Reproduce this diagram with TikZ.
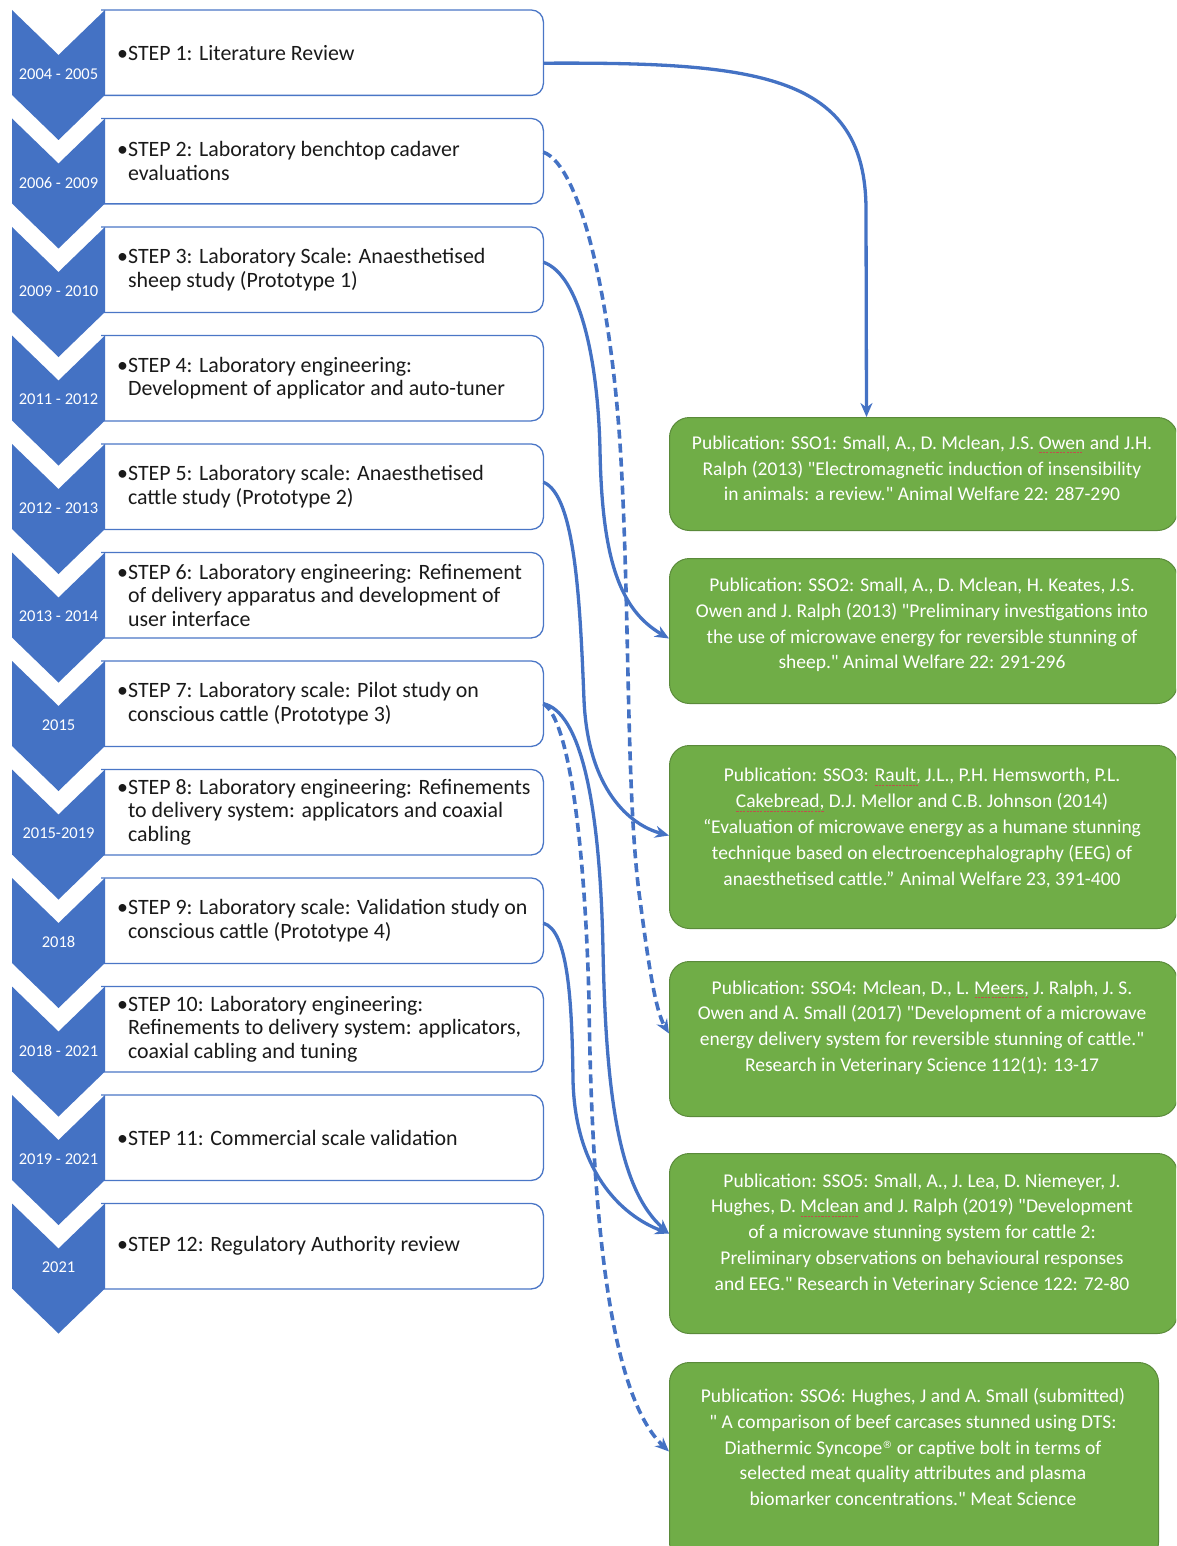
\documentclass[tikz,border=0pt]{standalone}
\usepackage{fontspec}
\setmainfont{Carlito}[Ligatures=TeXOff]
\newfontfamily\symfam{DejaVu Sans}
\usetikzlibrary{arrows.meta}
\definecolor{chevblue}{HTML}{4472C4}
\definecolor{edgeblue}{HTML}{4A76C6}
\definecolor{linkblue}{HTML}{4472C4}
\definecolor{pubgreen}{HTML}{70AD47}
\definecolor{pubedge}{HTML}{5A8A3A}
\definecolor{spellred}{HTML}{C0504D}
\definecolor{steptxt}{HTML}{1A1A1A}
\newsavebox\spellbox
\newcommand\spellmark[1]{\sbox\spellbox{#1}\rlap{\raisebox{-4pt}[0pt][0pt]{\makebox[\wd\spellbox][l]{\color{spellred}\leaders\hbox{\kern0.6pt\rule{2.2pt}{1.1pt}\kern0.6pt}\hfill}}}\usebox\spellbox}
\newcommand\ind{\phantom{•}}
\newcommand\mkstep[2]{%
  \node[stepbox] (s#1) at (105,{10+(#1-1)*108.5}) {};
  \draw[stepedge] ([xshift=-4pt]s#1.north west) -- (s#1.north east) -- (s#1.south east) -- ([xshift=-4pt]s#1.south west);
  \node[steptext] (t#1) at ([xshift=12pt]s#1.west) {#2};
}
\begin{document}
\begin{tikzpicture}[x=1pt,y=-1pt,
  chev/.style={fill=chevblue},
  stepbox/.style={minimum width=438pt, minimum height=85pt, anchor=north west, inner sep=0pt, fill=white},
  stepedge/.style={draw=edgeblue, line width=1.3pt, rounded corners=12pt},
  steptext/.style={font=\fontsize{21.9pt}{23.7pt}\selectfont, text=steptxt, align=left, anchor=west, inner sep=0pt},
  yearlab/.style={font=\fontsize{16.5pt}{18pt}\selectfont, text=white, inner sep=0pt},
  pubbox/.style={fill=pubgreen, draw=pubedge, line width=1pt, rounded corners=20pt, anchor=north west, inner sep=0pt},
  pubtext/.style={font=\fontsize{19.5pt}{25.8pt}\selectfont, text=white, align=center, inner sep=0pt},
  link/.style={draw=linkblue, line width=3.3pt, -{Stealth[length=14pt,width=12pt]}},
  dashlink/.style={link, line width=3.6pt, dash pattern=on 9pt off 5pt}
]
\useasboundingbox (0,0) rectangle (1176,1546);
\clip (0,0) rectangle (1176,1546);

% step boxes
\mkstep{1}{•STEP 1: Literature Review}
\mkstep{2}{•STEP 2: Laboratory benchtop cadaver\\\ind evaluations}
\mkstep{3}{•STEP 3: Laboratory Scale: Anaesthetised\\\ind sheep study (Prototype 1)}
\mkstep{4}{•STEP 4: Laboratory engineering:\\\ind Development of applicator and auto-tuner}
\mkstep{5}{•STEP 5: Laboratory scale: Anaesthetised\\\ind cattle study (Prototype 2)}
\mkstep{6}{•STEP 6: Laboratory engineering: Refinement\\\ind of delivery apparatus and development of\\\ind user interface}
\mkstep{7}{•STEP 7: Laboratory scale: Pilot study on\\\ind conscious cattle (Prototype 3)}
\mkstep{8}{•STEP 8: Laboratory engineering: Refinements\\\ind to delivery system: applicators and coaxial\\\ind cabling}
\mkstep{9}{•STEP 9: Laboratory scale: Validation study on\\\ind conscious cattle (Prototype 4)}
\mkstep{10}{•STEP 10: Laboratory engineering:\\\ind Refinements to delivery system: applicators,\\\ind coaxial cabling and tuning}
\mkstep{11}{•STEP 11: Commercial scale validation}
\mkstep{12}{•STEP 12: Regulatory Authority review}

% chevrons with years
\foreach \i/\yr in {1/2004 - 2005,2/2006 - 2009,3/2009 - 2010,4/2011 - 2012,5/2012 - 2013,6/2013 - 2014,7/2015,8/2015-2019,9/2018,10/2018 - 2021,11/2019 - 2021,12/2021}{
  \pgfmathsetmacro\ctop{10+(\i-1)*108.5}
  \fill[chev] (12,\ctop) -- (58.5,\ctop+45) -- (105,\ctop) -- (105,\ctop+85) -- (58.5,\ctop+130) -- (12,\ctop+85) -- cycle;
  \node[yearlab] (y\i) at (58.5,\ctop+64) {\yr};
}

% publication boxes
\node[pubbox, minimum width=508pt, minimum height=113pt] (g1) at (669,417) {};
\node[pubbox, minimum width=508pt, minimum height=145pt] (g2) at (669,558) {};
\node[pubbox, minimum width=508pt, minimum height=183pt] (g3) at (669,745) {};
\node[pubbox, minimum width=508pt, minimum height=155pt] (g4) at (669,961) {};
\node[pubbox, minimum width=508pt, minimum height=180pt] (g5) at (669,1153) {};
\node[pubbox, minimum width=489pt, minimum height=200pt] (g6) at (669,1362) {};

\node[pubtext] (g1t) at (922,468.5) {Publication: SSO1: Small, A., D. Mclean, J.S. \spellmark{Owen} and J.H.\\Ralph (2013) "Electromagnetic induction of insensibility\\in animals: a review." Animal Welfare 22: 287-290};
\node[pubtext] (g2t) at (922,625) {Publication: SSO2: Small, A., D. Mclean, H. Keates, J.S.\\Owen and J. Ralph (2013) "Preliminary investigations into\\the use of microwave energy for reversible stunning of\\sheep." Animal Welfare 22: 291-296};
\node[pubtext] (g3t) at (922,828) {Publication: SSO3: \spellmark{Rault,} J.L., P.H. Hemsworth, P.L.\\\spellmark{Cakebread,} D.J. Mellor and C.B. Johnson (2014)\\“Evaluation of microwave energy as a humane stunning\\technique based on electroencephalography (EEG) of\\anaesthetised cattle.” Animal Welfare 23, 391-400};
\node[pubtext] (g4t) at (922,1027.5) {Publication: SSO4: Mclean, D., L. \spellmark{Meers,} J. Ralph, J. S.\\Owen and A. Small (2017) "Development of a microwave\\energy delivery system for reversible stunning of cattle."\\Research in Veterinary Science 112(1): 13-17};
\node[pubtext] (g5t) at (922,1233.5) {Publication: SSO5: Small, A., J. Lea, D. Niemeyer, J.\\Hughes, D. \spellmark{Mclean} and J. Ralph (2019) "Development\\of a microwave stunning system for cattle 2:\\Preliminary observations on behavioural responses\\and EEG." Research in Veterinary Science 122: 72-80};
\node[pubtext] (g6t) at (913,1447) {Publication: SSO6: Hughes, J and A. Small (submitted)\\" A comparison of beef carcases stunned using DTS:\\Diathermic Syncope\raisebox{6pt}{\symfam\fontsize{10pt}{10pt}\selectfont ®} or captive bolt in terms of\\selected meat quality attributes and plasma\\biomarker concentrations." Meat Science};

% connectors
\draw[link] ([yshift=-10.5pt]s1.east) .. controls (760,62) and (866,75) .. (866,210) -- ([xshift=-57pt]g1.north);
\draw[dashlink] ([yshift=9pt]s2.east) .. controls (580,165) and (612,300) .. (621,460) .. controls (630,620) and (626,800) .. (640,900) .. controls (648,960) and (655,1010) .. ([yshift=5.5pt]g4.west);
\draw[link] ([yshift=7.5pt]s3.east) .. controls (580,275) and (598,360) .. (600,450) .. controls (602,560) and (620,610) .. ([yshift=-7.5pt]g2.west);
\draw[link] ([yshift=4.5pt]s5.east) .. controls (575,495) and (580,600) .. (584,700) .. controls (588,790) and (630,825) .. ([yshift=1.5pt]g3.west);
\draw[link] (s7.east) .. controls (580,712) and (600,800) .. (603,950) .. controls (606,1100) and (620,1190) .. ([yshift=10pt]g5.west);
\draw[dashlink] (s7.east) .. controls (570,720) and (585,850) .. (589,1000) .. controls (592,1250) and (615,1400) .. ([yshift=11pt]g6.west);
\draw[link] ([yshift=-2.5pt]s9.east) .. controls (568,930) and (572,1000) .. (573,1080) .. controls (575,1170) and (620,1215) .. ([yshift=10pt]g5.west);
\end{tikzpicture}
\end{document}
